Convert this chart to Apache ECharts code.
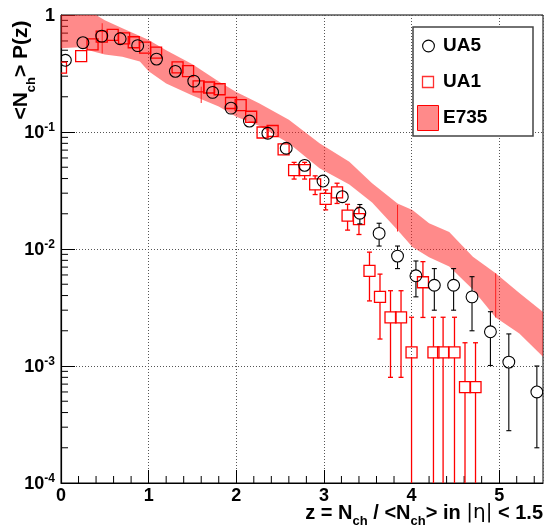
<!DOCTYPE html>
<html><head><meta charset="utf-8">
<script src="https://cdn.jsdelivr.net/npm/echarts@6/dist/echarts.min.js"></script>
<style>html,body{margin:0;padding:0;background:#fff}#c{width:546px;height:525px}</style>
</head><body><div id="c"></div>
<script>
// ---- data ----
const seriesNames = ['UA5', 'UA1', 'E735'];

const ua5X   = [0.05, 0.25, 0.465, 0.675, 0.875, 1.09, 1.305, 1.515, 1.73, 1.94, 2.15, 2.36, 2.57, 2.78, 2.99, 3.21, 3.41, 3.63, 3.84, 4.05, 4.26, 4.48, 4.69, 4.90, 5.11, 5.43];
const ua5Y   = [0.41, 0.58, 0.66, 0.627, 0.547, 0.42, 0.33, 0.272, 0.218, 0.16, 0.124, 0.0975, 0.0726, 0.0519, 0.0381, 0.028, 0.0202, 0.0136, 0.0087, 0.0059, 0.0049, 0.0049, 0.0039, 0.00196, 0.00108, 0.0006];
const ua5Err = [0.01, 0.01, 0.01, 0.01, 0.01, 0.008, 0.007, 0.006, 0.005, 0.004, 0.003, 0.0025, 0.002, 0.0018, 0.0015, 0.0013, 0.0038, 0.003, 0.0019, 0.002, 0.0019, 0.0019, 0.0019, 0.00095, 0.0008, 0.0004];

const ua1X   = [0.0, 0.23, 0.36, 0.465, 0.59, 0.72, 0.83, 0.96, 1.085, 1.33, 1.45, 1.57, 1.69, 1.81, 1.94, 2.05, 2.17, 2.30, 2.415, 2.54, 2.66, 2.78, 2.90, 3.02, 3.15, 3.27, 3.40, 3.52, 3.64, 3.76, 3.88, 4.00, 4.13, 4.25, 4.36, 4.49, 4.61, 4.73];
const ua1Y   = [0.355, 0.446, 0.561, 0.653, 0.675, 0.632, 0.585, 0.526, 0.476, 0.357, 0.332, 0.245, 0.24, 0.232, 0.177, 0.17, 0.135, 0.099, 0.102, 0.0711, 0.0473, 0.0473, 0.0357, 0.0268, 0.0305, 0.0193, 0.018, 0.0065, 0.0039, 0.0026, 0.0026, 0.00131, 0.0052, 0.00131, 0.00131, 0.00131, 0.00066, 0.00066];
const ua1Err = [0.005, 0.005, 0.005, 0.005, 0.005, 0.005, 0.005, 0.005, 0.005, 0.004, 0.004, 0.004, 0.004, 0.004, 0.003, 0.003, 0.003, 0.002, 0.002, 0.002, 0.0077, 0.0077, 0.0065, 0.0052, 0.006, 0.0048, 0.0047, 0.0029, 0.0022, 0.0018, 0.0018, 0.0013, 0.0026, 0.0013, 0.0013, 0.0013, 0.00092, 0.00092];

const e735X    = [0.0, 0.2, 0.4, 0.5, 0.7, 0.9, 1.0, 1.2, 1.5, 1.8, 2.0, 2.26, 2.6, 2.95, 3.29, 3.55, 3.84, 4.01, 4.2, 4.43, 4.7, 4.96, 5.23, 5.5];
const e735High = [1.0, 1.0, 1.0, 0.9, 0.77, 0.66, 0.61, 0.5, 0.38, 0.27, 0.22, 0.176, 0.127, 0.08, 0.0557, 0.0364, 0.0245, 0.0215, 0.0166, 0.014, 0.0086, 0.0062, 0.0042, 0.0029];
const e735Low  = [0.52, 0.53, 0.48, 0.46, 0.44, 0.40, 0.33, 0.26, 0.205, 0.165, 0.135, 0.113, 0.08, 0.049, 0.0355, 0.025, 0.0145, 0.0104, 0.0085, 0.0071, 0.0045, 0.0026, 0.0019, 0.0012];

const e735BarX    = [0.47, 1.6, 3.84, 4.96];
const e735BarLow  = [0.47, 0.177, 0.0141, 0.0026];
const e735BarHigh = [0.85, 0.244, 0.0238, 0.0062];

const xMinorTicks = [0.2,0.4,0.6,0.8,1.2,1.4,1.6,1.8,2.2,2.4,2.6,2.8,3.2,3.4,3.6,3.8,4.2,4.4,4.6,4.8,5.2,5.4];
const yDecades = [1e-4, 1e-3, 1e-2, 1e-1];
const yMinorMult = [2,3,4,5,6,7,8,9];

const X_MIN = 0, X_MAX = 5.5, Y_MIN = 1e-4, Y_MAX = 1;
const FONT = '"Liberation Sans", Arial, Helvetica, sans-serif';
const BAND = 'rgba(255,30,30,0.52)';

// ---- rendering ----
const chart = echarts.init(document.getElementById('c'), null, {renderer: 'canvas'});

const yMinorTicks = [];
yDecades.forEach(d => yMinorMult.forEach(m => yMinorTicks.push(d * m)));

function markerRender(kind, color, r, lw, blw) {
  return function (params, api) {
    const x = api.value(0), y = api.value(1), e = api.value(2);
    const c = api.coord([x, y]);
    const bottomPx = api.coord([x, Y_MIN])[1];
    const hi = api.coord([x, y + e])[1];
    const lowV = y - e;
    let lo, loCap = true;
    if (lowV > Y_MIN) { lo = api.coord([x, lowV])[1]; } else { lo = bottomPx; loCap = false; }
    const ls = {stroke: color, lineWidth: blw};
    const ch = [];
    const cw = 2.5;
    if (hi < c[1] - r - 1) {
      ch.push({type: 'line', shape: {x1: c[0], y1: c[1] - r, x2: c[0], y2: hi}, style: ls});
      ch.push({type: 'line', shape: {x1: c[0] - cw, y1: hi, x2: c[0] + cw, y2: hi}, style: ls});
    }
    if (lo > c[1] + r + 1) {
      ch.push({type: 'line', shape: {x1: c[0], y1: c[1] + r, x2: c[0], y2: lo}, style: ls});
      if (loCap) ch.push({type: 'line', shape: {x1: c[0] - cw, y1: lo, x2: c[0] + cw, y2: lo}, style: ls});
    }
    if (kind === 'circle') {
      ch.push({type: 'circle', shape: {cx: c[0], cy: c[1], r: r}, style: {fill: 'none', stroke: color, lineWidth: lw}});
    } else {
      ch.push({type: 'rect', shape: {x: c[0] - r, y: c[1] - r, width: 2 * r, height: 2 * r}, style: {fill: 'none', stroke: color, lineWidth: lw}});
    }
    return {type: 'group', children: ch};
  };
}

const option = {
  animation: false,
  backgroundColor: '#fff',
  grid: {left: 61, right: 3, top: 15, bottom: 42, show: true, borderColor: '#000', borderWidth: 1, containLabel: false},
  xAxis: {
    type: 'value', min: X_MIN, max: X_MAX, interval: 1,
    axisLine: {show: true, onZero: false, lineStyle: {color: '#000', width: 1.2}},
    axisTick: {show: true, inside: true, length: 13, lineStyle: {color: '#000', width: 1}},
    minorTick: {show: false},
    splitLine: {show: true, lineStyle: {color: '#555', type: [1, 2], width: 1}},
    axisLabel: {showMaxLabel: false, margin: 4, fontSize: 18, fontWeight: 'bold', fontFamily: FONT, color: '#000',
      formatter: v => String(v)}
  },
  yAxis: {
    type: 'log', logBase: 10, min: Y_MIN, max: Y_MAX,
    axisLine: {show: true, lineStyle: {color: '#000', width: 1.2}},
    axisTick: {show: true, inside: true, length: 14, lineStyle: {color: '#000', width: 1}},
    minorTick: {show: false},
    splitLine: {show: true, lineStyle: {color: '#555', type: [1, 2], width: 1}},
    axisLabel: {
      margin: 6, color: '#000',
      formatter: v => {
        const e = Math.round(Math.log10(v));
        return e === 0 ? '{b|1}' : '{b|10}{s|' + e + '}';
      },
      rich: {
        b: {fontSize: 18, fontWeight: 'bold', fontFamily: FONT, color: '#000', lineHeight: 20, verticalAlign: 'bottom'},
        s: {fontSize: 12, fontWeight: 'bold', fontFamily: FONT, color: '#000', lineHeight: 12, verticalAlign: 'top'}
      }
    }
  },
  series: [
    { // minor ticks, y
      type: 'custom', z: 1, silent: true,
      data: yMinorTicks.map(v => [X_MIN, v]),
      renderItem: (p, api) => {
        const c = api.coord([api.value(0), api.value(1)]);
        return {type: 'line', shape: {x1: c[0], y1: c[1], x2: c[0] + 7, y2: c[1]}, style: {stroke: '#000', lineWidth: 1}};
      }
    },
    { // minor ticks, x
      type: 'custom', z: 1, silent: true,
      data: xMinorTicks.map(v => [v, Y_MIN]),
      renderItem: (p, api) => {
        const c = api.coord([api.value(0), api.value(1)]);
        return {type: 'line', shape: {x1: c[0], y1: c[1], x2: c[0], y2: c[1] - 7}, style: {stroke: '#000', lineWidth: 1}};
      }
    },
    { // E735 band
      name: seriesNames[2], type: 'custom', z: 2, silent: true, clip: true,
      data: e735X.map((x, i) => [x, e735Low[i], e735High[i]]),
      renderItem: (p, api) => {
        if (p.dataIndex !== 0) return null;
        const pts = [];
        for (let i = 0; i < e735X.length; i++) pts.push(api.coord([e735X[i], e735High[i]]));
        for (let i = e735X.length - 1; i >= 0; i--) pts.push(api.coord([e735X[i], e735Low[i]]));
        return {type: 'polygon', shape: {points: pts}, style: {fill: BAND, stroke: null}};
      }
    },
    { // E735 bars
      type: 'custom', z: 3, silent: true, clip: true,
      data: e735BarX.map((x, i) => [x, e735BarLow[i], e735BarHigh[i]]),
      renderItem: (p, api) => {
        const a = api.coord([api.value(0), api.value(1)]);
        const b = api.coord([api.value(0), api.value(2)]);
        return {type: 'line', shape: {x1: a[0], y1: a[1], x2: b[0], y2: b[1]}, style: {stroke: '#ff2020', lineWidth: 1}};
      }
    },
    {
      name: seriesNames[1], type: 'custom', z: 4, silent: true, clip: true,
      data: ua1X.map((x, i) => [x, ua1Y[i], ua1Err[i]]),
      renderItem: markerRender('square', '#ff0000', 5.5, 1.3, 1.3)
    },
    {
      name: seriesNames[0], type: 'custom', z: 5, silent: true, clip: true,
      data: ua5X.map((x, i) => [x, ua5Y[i], ua5Err[i]]),
      renderItem: markerRender('circle', '#000', 5.9, 1.1, 1.1)
    }
  ],
  graphic: [
    // legend
    {type: 'rect', z: 100, shape: {x: 413, y: 27, width: 120, height: 109}, style: {fill: '#fff', stroke: '#444', lineWidth: 1.5}},
    {type: 'circle', z: 101, shape: {cx: 428.5, cy: 46, r: 5.9}, style: {fill: 'none', stroke: '#000', lineWidth: 1.1}},
    {type: 'text', z: 101, x: 443, y: 46, style: {text: seriesNames[0], font: 'bold 19px ' + FONT, fill: '#000', verticalAlign: 'middle'}},
    {type: 'rect', z: 101, shape: {x: 422.5, y: 76.5, width: 11, height: 11}, style: {fill: 'none', stroke: '#ff3030', lineWidth: 1.3}},
    {type: 'text', z: 101, x: 443, y: 82, style: {text: seriesNames[1], font: 'bold 19px ' + FONT, fill: '#000', verticalAlign: 'middle'}},
    {type: 'rect', z: 101, shape: {x: 417.5, y: 105.5, width: 21, height: 25}, style: {fill: BAND, stroke: '#ff0000', lineWidth: 1}},
    {type: 'text', z: 101, x: 443, y: 118, style: {text: seriesNames[2], font: 'bold 19px ' + FONT, fill: '#000', verticalAlign: 'middle'}},
    // x axis title
    {type: 'text', z: 50, x: 543, y: 513, style: {
      text: '{b|z = N}{s|ch}{b| / <N}{s|ch}{b|> in }{g||η|}{b| < 1.5}',
      align: 'right', verticalAlign: 'middle',
      rich: {
        b: {font: 'bold 20px ' + FONT, fill: '#000', lineHeight: 20, verticalAlign: 'top'},
        g: {font: '20px "DejaVu Sans", ' + FONT, fill: '#000', lineHeight: 20, verticalAlign: 'top'},
        s: {font: 'bold 13px ' + FONT, fill: '#000', lineHeight: 13, verticalAlign: 'bottom', padding: [0, 0, -5, 0]}
      }
    }},
    // y axis title
    {type: 'text', z: 50, x: 22, y: 70, rotation: Math.PI / 2, style: {
      text: '{b|<N}{s|ch}{b|> P(z)}',
      align: 'center', verticalAlign: 'middle',
      rich: {
        b: {font: 'bold 21px ' + FONT, fill: '#000', lineHeight: 22, verticalAlign: 'top'},
        s: {font: 'bold 13px ' + FONT, fill: '#000', lineHeight: 13, verticalAlign: 'bottom', padding: [0, 0, -5, 0]}
      }
    }}
  ]
};
chart.setOption(option);
</script>
</body></html>
